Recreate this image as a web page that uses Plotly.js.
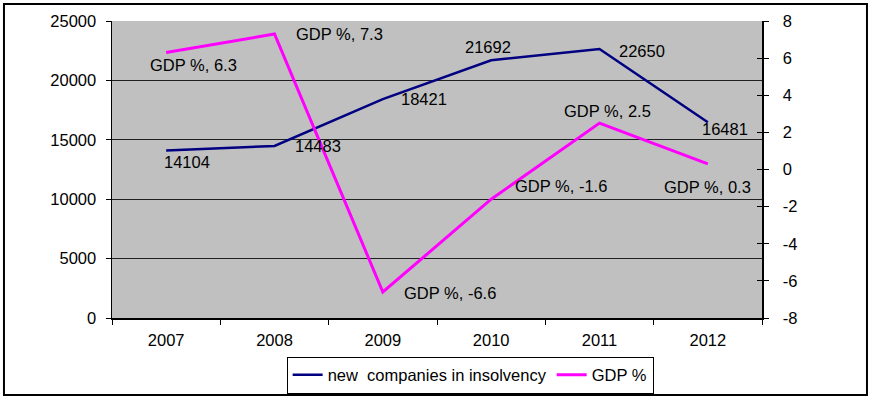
<!DOCTYPE html>
<html>
<head>
<meta charset="utf-8">
<script src="https://cdn.plot.ly/plotly-3.0.1.min.js"></script>
<style>
html,body{margin:0;padding:0;background:#fff;}
#chart{width:872px;height:397px;}
</style>
</head>
<body>
<div id="chart"></div>
<script>
const years = ['2007','2008','2009','2010','2011','2012'];
const insolvencies = [14104, 14483, 18421, 21692, 22650, 16481];
const gdp = [6.3, 7.3, -6.6, -1.6, 2.5, 0.3];
const insolvencyName = 'new  companies in insolvency';
const gdpName = 'GDP %';
const leftTicks = [0, 5000, 10000, 15000, 20000, 25000];
const rightTicks = [-8, -6, -4, -2, 0, 2, 4, 6, 8];

// label offsets in pixels (dx right, dy down) relative to each point
const blueShift = [[21,12],[43,0],[41,0],[-3,-13],[42,2],[17,7]];
const pinkShift = [[27,12],[65,0],[67,1],[70,-13],[8,-12],[0,23]];

const FONT = 'Liberation Sans, Arial, sans-serif';
const fsz = 16.5;

const traces = [
  {x: years, y: insolvencies, name: insolvencyName, type: 'scatter', mode: 'lines',
   line: {color: '#000080', width: 2.5}, yaxis: 'y'},
  {x: years, y: gdp, name: gdpName, type: 'scatter', mode: 'lines',
   line: {color: '#FF00FF', width: 3}, yaxis: 'y2'}
];

const annotations = [];
years.forEach((yr, i) => {
  annotations.push({x: i, y: insolvencies[i], xref: 'x', yref: 'y',
    text: String(insolvencies[i]), showarrow: false,
    xshift: blueShift[i][0], yshift: -blueShift[i][1],
    font: {family: FONT, size: fsz, color: '#000'}});
  annotations.push({x: i, y: gdp[i], xref: 'x', yref: 'y2',
    text: gdpName + ', ' + gdp[i], showarrow: false,
    xshift: pinkShift[i][0], yshift: -pinkShift[i][1],
    font: {family: FONT, size: fsz, color: '#000'}});
});

const layout = {
  width: 872, height: 397,
  margin: {l: 112, r: 110, t: 21, b: 79, autoexpand: false},
  paper_bgcolor: '#ffffff',
  plot_bgcolor: '#C0C0C0',
  font: {family: FONT, size: fsz, color: '#000'},
  showlegend: true,
  legend: {orientation: 'h', x: 0.551, xanchor: 'center', y: -0.13, yanchor: 'top',
    bordercolor: '#000', borderwidth: 1, bgcolor: '#fff',
    font: {family: FONT, size: fsz, color: '#000'}, tracegroupgap: 0},
  xaxis: {type: 'category', categoryorder: 'array', categoryarray: years,
    range: [-0.5, 5.5], autorange: false,
    showline: true, linecolor: '#000', linewidth: 1.5, showgrid: false,
    ticks: 'outside', ticklen: 5, tickcolor: '#000', tickson: 'boundaries',
    tickfont: {family: FONT, size: fsz}, tickangle: 0, zeroline: false, fixedrange: true,
    ticklabelstandoff: 7},
  yaxis: {range: [0, 25000], autorange: false, tickvals: leftTicks, ticktext: leftTicks.map(String),
    showline: true, linecolor: '#000', linewidth: 1.5,
    showgrid: true, gridcolor: '#202020', gridwidth: 1,
    ticks: 'outside', ticklen: 5, tickcolor: '#000', zeroline: false,
    tickfont: {family: FONT, size: fsz}, ticklabelstandoff: 6},
  yaxis2: {range: [-8, 8], autorange: false, tickvals: rightTicks, ticktext: rightTicks.map(String),
    overlaying: 'y', side: 'right', showline: true, linecolor: '#000', linewidth: 1.5,
    showgrid: false, zeroline: false, ticks: 'outside', ticklen: 5, tickcolor: '#000',
    tickfont: {family: FONT, size: fsz}, ticklabelstandoff: 11},
  yaxis3: {range: [-8, 8], autorange: false, tickvals: rightTicks, overlaying: 'y', side: 'right',
    showline: false, showgrid: false, zeroline: false, ticks: 'inside', ticklen: 5,
    tickcolor: '#000', showticklabels: false},
  annotations: annotations,
  shapes: [
    {type: 'rect', xref: 'paper', yref: 'paper',
     x0: -0.1662, x1: 1.1615, y0: -0.2594, y1: 1.0572,
     line: {color: '#000', width: 2}, fillcolor: 'rgba(0,0,0,0)', layer: 'below'}
  ]
};

traces.push({x: [years[0]], y: [0], yaxis: 'y3', type: 'scatter', mode: 'markers',
  marker: {opacity: 0}, showlegend: false, hoverinfo: 'skip'});

Plotly.newPlot('chart', traces, layout, {displayModeBar: false, staticPlot: true});
</script>
</body>
</html>
